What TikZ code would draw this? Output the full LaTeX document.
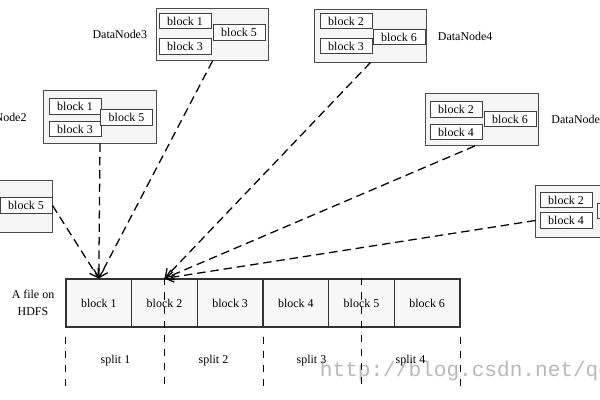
\documentclass[tikz,border=0pt]{standalone}
\usepackage{fontspec}
\setmainfont{Liberation Serif}
\setmonofont{Liberation Mono}
\usetikzlibrary{arrows.meta}
\tikzset{
	dnbox/.style={draw=black!70, fill=black!4, line width=0.7pt, minimum width=2.8cm, minimum height=1.3cm, inner sep=0pt},
	blk/.style={draw=black!75, fill=white, line width=0.7pt, minimum width=1.3cm, minimum height=0.38cm, inner sep=0pt},
	cell/.style={draw=black!80, fill=black!3, line width=0.8pt, minimum width=1.6417cm, minimum height=1.2cm, inner sep=0pt},
	link/.style={dash pattern=on 6pt off 3.5pt, line width=0.9pt, -{Straight Barb[length=2mm,width=2.6mm]}},
	splitline/.style={dash pattern=on 5pt off 5pt, line width=0.8pt},
}
\begin{document}
\begin{tikzpicture}[x=0.025cm, y=-0.025cm, font=\fontsize{8.5}{12}\selectfont]
		\useasboundingbox (0,0) rectangle (600,400);
		\node[font=\ttfamily\fontsize{15}{15}\selectfont, text=black!28, anchor=west] (wm) at (315,371) {http://blog.csdn.net/qc};
		% datanodes
		\node[dnbox] (dn1) at (-4,206.5) {};
		\node[blk] (dn1b5) at (26,205.5) {block 5};
		\node[dnbox, label={[label distance=0.3cm]left:DataNode2}] (dn2) at (100,117) {};
		\node[blk] (dn2b1) at (75,106.5) {block 1};
		\node[blk] (dn2b3) at (75,129) {block 3};
		\node[blk] (dn2b5) at (126.5,117.5) {block 5};
		\node[dnbox, label={[label distance=0.1cm]left:DataNode3}] (dn3) at (212.5,34.5) {};
		\node[blk] (dn3b1) at (185,21) {block 1};
		\node[blk] (dn3b3) at (185,46.5) {block 3};
		\node[blk] (dn3b5) at (239,32.5) {block 5};
		\node[dnbox, label={[label distance=0.15cm]right:DataNode4}] (dn4) at (370.5,36) {};
		\node[blk] (dn4b2) at (346,21) {block 2};
		\node[blk] (dn4b3) at (346,46) {block 3};
		\node[blk] (dn4b6) at (399,37) {block 6};
		\node[dnbox, label={[label distance=0.2cm]right:DataNode5}] (dn5) at (482,119.5) {};
		\node[blk] (dn5b2) at (456,109.5) {block 2};
		\node[blk] (dn5b4) at (456,132) {block 4};
		\node[blk] (dn5b6) at (510,119) {block 6};
		\node[dnbox] (dn6) at (592,211.5) {};
		\node[blk] (dn6b2) at (566,200) {block 2};
		\node[blk] (dn6b4) at (566,220.5) {block 4};
		\node[blk] (dn6b6) at (623,211) {block 6};
		% the file
		\node[align=center] (file) at (33,303) {A file on\\HDFS};
		\node[cell] (c1) at (98.8,303) {block 1};
		\node[cell] (c2) at (164.5,303) {block 2};
		\node[cell] (c3) at (230.2,303) {block 3};
		\node[cell] (c4) at (295.8,303) {block 4};
		\node[cell] (c5) at (361.5,303) {block 5};
		\node[cell] (c6) at (427.2,303) {block 6};
		% splits
		\draw[splitline] (c1.south west) ++(0,9) -- ++(0,50);
		\draw[splitline] (c2.north) -- ++(0,106);
		\draw[splitline] (c3.south east) ++(0,9) -- ++(0,50);
		\draw[splitline] (c5.north) -- ++(0,106);
		\draw[splitline] (c6.south east) ++(0,9) -- ++(0,50);
		\node (s1) at (115.5,361) {split 1};
		\node (s2) at (213.5,361) {split 2};
		\node (s3) at (311.5,361) {split 3};
		\node (s4) at (410.5,361) {split 4};
		% links
		\draw[link] (dn1.east |- dn1b5.east) -- (c1.north);
		\draw[link] (dn2.south) -- (c1.north);
		\draw[link] (dn3.south) -- (c1.north);
		\draw[link] (dn4.south) -- (c2.north);
		\draw[link] ([xshift=-0.18cm]dn5.south) -- (c2.north);
		\draw[link] (dn6.west |- dn6b4.west) -- (c2.north);
	\end{tikzpicture}
\end{document}
